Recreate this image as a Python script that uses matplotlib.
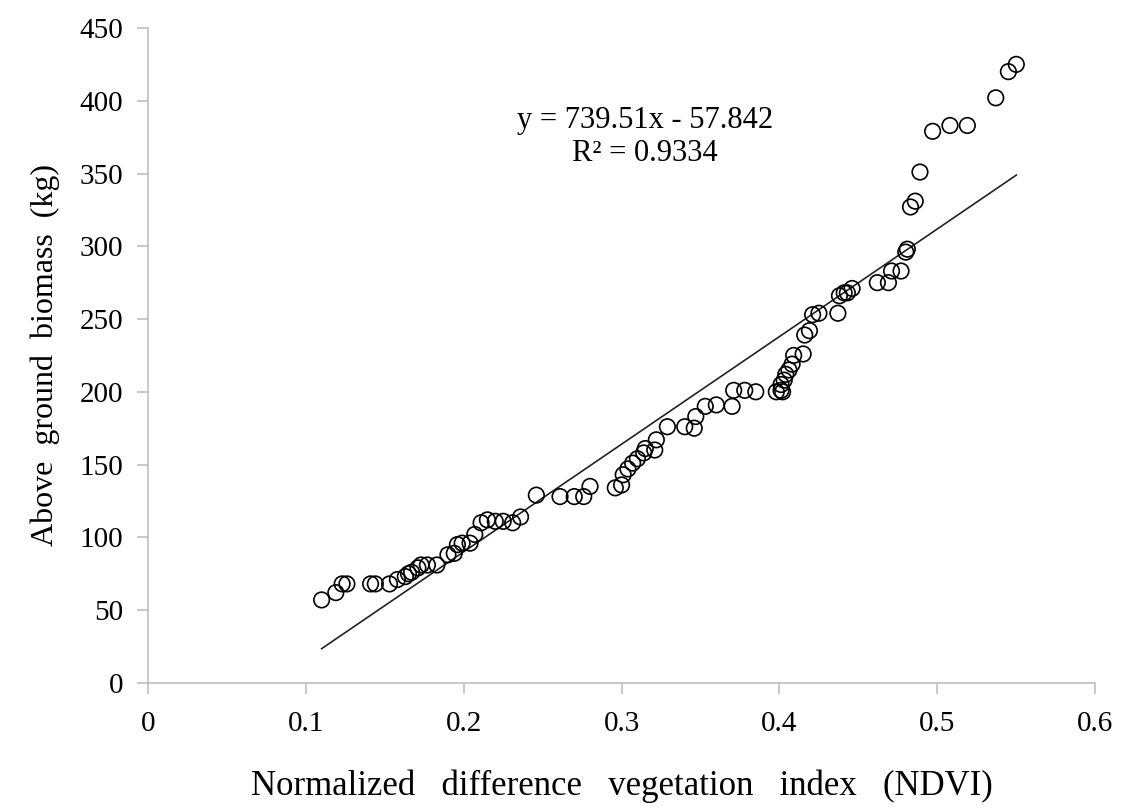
import matplotlib.pyplot as plt
import numpy as np

plt.rcParams['font.family'] = ['Liberation Serif', 'DejaVu Serif']

# NDVI values
ndvi = [0.110, 0.119, 0.123, 0.126, 0.141, 0.144, 0.153, 0.158, 0.163, 0.165,
        0.167, 0.171, 0.173, 0.177, 0.183, 0.190, 0.194, 0.196, 0.199, 0.204,
        0.207, 0.211, 0.215, 0.220, 0.225, 0.231, 0.236, 0.246, 0.261, 0.270,
        0.276, 0.280, 0.296, 0.300, 0.301, 0.304, 0.307, 0.310, 0.314, 0.315,
        0.321, 0.322, 0.329, 0.340, 0.346, 0.347, 0.353, 0.360, 0.370, 0.371,
        0.378, 0.385, 0.398, 0.401, 0.402, 0.401, 0.403, 0.404, 0.406, 0.408,
        0.409, 0.415, 0.416, 0.419, 0.421, 0.425, 0.437, 0.438, 0.441, 0.443,
        0.446, 0.462, 0.469, 0.471, 0.477, 0.480, 0.481, 0.483, 0.486, 0.489,
        0.497, 0.508, 0.519, 0.537, 0.545, 0.550]

# above ground biomass (kg)
biomass = [57, 62, 68, 68, 68, 68, 68, 71, 73, 75,
           76, 79, 81, 81, 81, 88, 89, 95, 96, 96,
           102, 110, 112, 111, 111, 110, 114, 129, 128, 128,
           128, 135, 134, 136, 143, 147, 151, 154, 158, 161,
           160, 167, 176, 176, 175, 183, 190, 191, 190, 201,
           201, 200, 200, 201, 200, 205, 208, 212, 215, 219,
           225, 226, 239, 242, 253, 254, 254, 266, 268, 268,
           271, 275, 275, 283, 283, 296, 298, 327, 331, 351,
           379, 383, 383, 402, 420, 425]

slope = 739.51
intercept = -57.842
r2 = 0.9334

fig = plt.figure(figsize=(11.21, 8.11), dpi=100)
ax = fig.add_axes([0.132, 0.158, 0.845, 0.8075])

ax.scatter(ndvi, biomass, s=125, facecolors='none', edgecolors='black', linewidths=1.2, zorder=3)

xl = np.array([min(ndvi), max(ndvi)])
ax.plot(xl, slope * xl + intercept, color='#222222', linewidth=1.2, zorder=2)

ax.text(0.315, 375, 'y = 739.51x - 57.842\nR² = %.4f' % r2, ha='center', va='center',
        fontsize=22, linespacing=1.2)

ax.set_xlim(0, 0.6)
ax.set_ylim(0, 450)
ax.set_xticks([0, 0.1, 0.2, 0.3, 0.4, 0.5, 0.6])
ax.set_xticklabels(['0', '0.1', '0.2', '0.3', '0.4', '0.5', '0.6'])
ax.set_yticks(np.arange(0, 451, 50))

for s in ['top', 'right']:
    ax.spines[s].set_visible(False)
for s in ['left', 'bottom']:
    ax.spines[s].set_color('#bfbfbf')
    ax.spines[s].set_linewidth(1.2)
ax.tick_params(axis='both', colors='#bfbfbf', labelcolor='black', labelsize=21,
               length=8, width=1.2, direction='out')
ax.tick_params(axis='y', pad=10)
ax.tick_params(axis='x', pad=12)

ax.set_xlabel('Normalized   difference   vegetation   index   (NDVI)', fontsize=25, labelpad=24)
ax.set_ylabel('Above  ground  biomass  (kg)', fontsize=23, labelpad=14)

fig.savefig('out.png', dpi=100)
